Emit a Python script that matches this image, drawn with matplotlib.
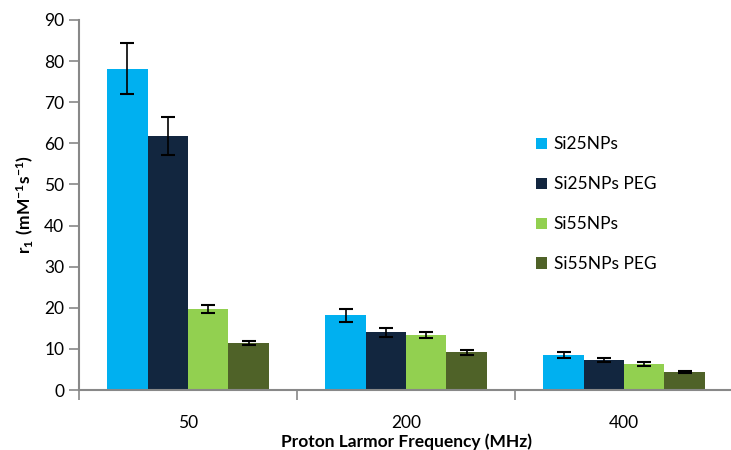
import matplotlib.pyplot as plt
import numpy as np

# datos
frequencies = ["50", "200", "400"]
series_names = ["Si25NPs", "Si25NPs PEG", "Si55NPs", "Si55NPs PEG"]
si25 = [78.1, 18.2, 8.5]
si25_peg = [61.8, 14.0, 7.3]
si55 = [19.7, 13.4, 6.3]
si55_peg = [11.4, 9.2, 4.4]
err_si25 = [6.2, 1.6, 0.8]
err_si25_peg = [4.7, 1.2, 0.4]
err_si55 = [1.0, 0.8, 0.4]
err_si55_peg = [0.5, 0.6, 0.3]

colors = ["#00B0F0", "#12263F", "#92D050", "#4F6228"]
values = [si25, si25_peg, si55, si55_peg]
errors = [err_si25, err_si25_peg, err_si55, err_si55_peg]

plt.rcParams['font.family'] = ['Lato', 'DejaVu Sans']
plt.rcParams['mathtext.fontset'] = 'custom'
plt.rcParams['mathtext.rm'] = 'Lato'
plt.rcParams['mathtext.bf'] = 'Lato:bold'

fig = plt.figure(figsize=(7.31, 4.5), dpi=100)
ax = fig.add_axes([0.108, 0.1333, 0.895, 0.8223])

x = np.arange(len(frequencies))
width = 0.185
for i, (name, vals, errs, col) in enumerate(zip(series_names, values, errors, colors)):
    pos = x + (i - 1.5) * width
    ax.bar(pos, vals, width, color=col, label=name, zorder=2)
    ax.errorbar(pos, vals, yerr=errs, fmt='none', ecolor='black',
                elinewidth=1.2, capsize=5, capthick=1.5, zorder=3)

ax.set_xlim(-0.5, 2.5)
ax.set_ylim(0, 90)
ax.set_yticks(range(0, 91, 10))
ax.set_xticks(x)
ax.set_xticklabels(frequencies, fontsize=12.5)
ax.set_xticks([-0.5, 0.5, 1.5, 2.5], minor=True)
ax.tick_params(axis='x', which='major', length=0, pad=18)
ax.tick_params(axis='x', which='minor', length=7, color='#888888', width=1.2)
ax.tick_params(axis='y', length=7, color='#888888', width=1.2, labelsize=12.5)

for s in ['top', 'right']:
    ax.spines[s].set_visible(False)
for s in ['left', 'bottom']:
    ax.spines[s].set_color('#888888')
    ax.spines[s].set_linewidth(1.5)

ax.set_ylabel(r'$\mathbf{r_1\ (mM^{-1}s^{-1})}$', fontsize=12.5, labelpad=6)
ax.set_xlabel('Proton Larmor Frequency (MHz)', fontsize=12.5, fontweight='bold', labelpad=2)

ax.legend(loc='upper left', bbox_to_anchor=(0.675, 0.728), frameon=False,
          fontsize=12.5, handlelength=0.6, handleheight=0.6, labelspacing=1.38,
          handletextpad=0.4)

fig.savefig('out.png', dpi=100)
